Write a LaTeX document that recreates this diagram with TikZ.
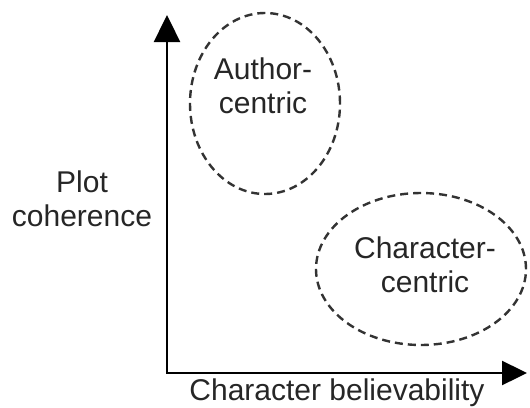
\documentclass[tikz,border=0pt]{standalone}
\usepackage{fontspec}
\setmainfont{Liberation Sans}
\usetikzlibrary{arrows.meta,shapes.geometric}
\tikzset{
  region/.style={ellipse, draw, line width=2.4pt, dash pattern=on 8pt off 5pt, inner sep=0pt, color=black!80},
  caption/.style={align=center, font=\fontsize{30}{34}\selectfont, inner sep=0pt, text=black!85},
  axis/.style={line width=2.4pt, {Triangle[length=27pt,width=26pt]}-{Triangle[length=25pt,width=24pt]}}
}
\begin{document}
\begin{tikzpicture}[x=1pt,y=-1pt]
    \useasboundingbox (0,0) rectangle (530,407);

        % Vertices
        \coordinate (origin) at (167,373);
        \coordinate (yTip) at (167,15);
        \coordinate (xTip) at (527,373);
        \node[region, minimum width=150pt, minimum height=181pt](authorRegion) at (265,103.5){};
        \node[region, minimum width=210pt, minimum height=152pt](characterRegion) at (421,269){};
        \node[caption](authorText) at (263,86){Author-\\centric};
        \node[caption](characterText) at (425,265){Character-\\centric};
        \node[caption](plotLabel) at (82,199){Plot\\coherence};
        \node[caption](believabilityLabel) at (337,393){Character believability};
        % Edges
        \draw[axis](yTip) -- (origin) -- (xTip);

    \end{tikzpicture}
\end{document}
